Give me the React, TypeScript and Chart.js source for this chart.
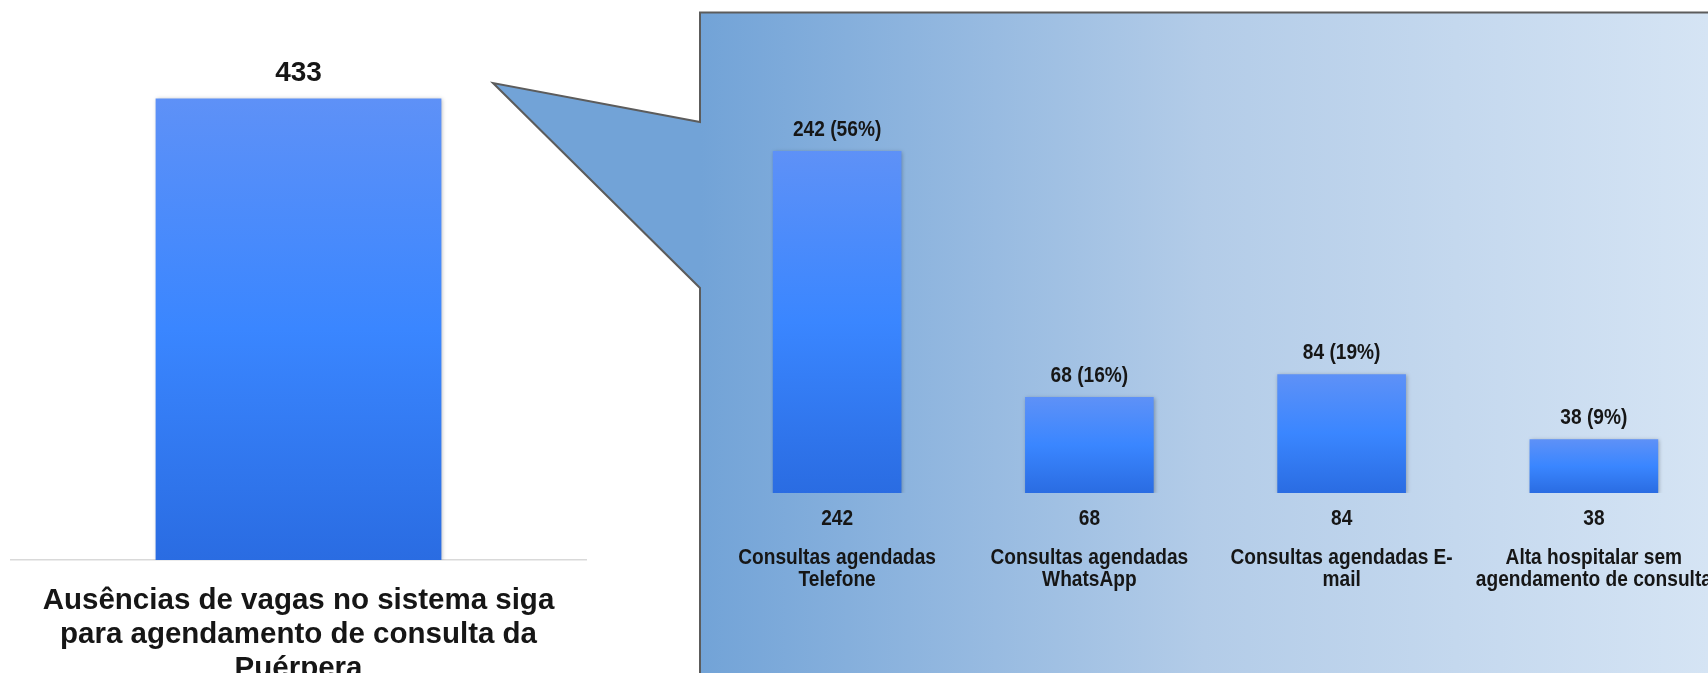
import React, { useEffect, useRef } from "react";
import { Chart, registerables } from "chart.js";

Chart.register(...registerables);

// ---------- data ----------
const leftCategories = [["Ausências de vagas no sistema siga", "para agendamento de consulta da", "Puérpera"]];
const leftValues = [433];

const rightCategories = [
  ["Consultas agendadas", "Telefone"],
  ["Consultas agendadas", "WhatsApp"],
  ["Consultas agendadas E-", "mail"],
  ["Alta hospitalar sem", "agendamento de consulta"],
];
const rightValues = [242, 68, 84, 38];
const rightPercents = ["56%", "16%", "19%", "9%"];

const leftYMax = 500;
const rightYMax = 300;

// ---------- helpers ----------
const FAMILY = "'Liberation Sans', Arial, sans-serif";
const NARROW = 0.89;

function barGradient(context: any) {
  const chart = context.chart;
  const y = chart.scales && chart.scales.y;
  if (!y || !chart.chartArea || context.dataIndex === undefined) return "#3a86ff";
  const v = context.dataset.data[context.dataIndex];
  const top = y.getPixelForValue(v);
  const base = y.getPixelForValue(0);
  if (!isFinite(top) || !isFinite(base) || top === base) return "#3a86ff";
  const g = chart.ctx.createLinearGradient(0, top, 0, base);
  g.addColorStop(0, "#5e91f7");
  g.addColorStop(0.5, "#3a86ff");
  g.addColorStop(1, "#2a6ce2");
  return g;
}

const shadowPlugin = {
  id: "barShadow",
  beforeDatasetsDraw(chart: any) {
    const ctx = chart.ctx;
    ctx.save();
    ctx.shadowColor = "rgba(0,0,0,0.28)";
    ctx.shadowBlur = 4;
    ctx.shadowOffsetX = 1;
    ctx.shadowOffsetY = 1;
  },
  afterDatasetsDraw(chart: any) {
    chart.ctx.restore();
  },
};

const panelPlugin = {
  id: "panel",
  beforeDraw(chart: any) {
    const ctx = chart.ctx;
    ctx.save();
    const g = ctx.createLinearGradient(700, 0, 1708, 0);
    g.addColorStop(0, "#72a3d7");
    g.addColorStop(0.5, "#b3cce8");
    g.addColorStop(1, "#d5e4f4");
    ctx.fillStyle = g;
    ctx.beginPath();
    ctx.moveTo(1800, 12.5);
    ctx.lineTo(700, 12.5);
    ctx.lineTo(700, 122);
    ctx.lineTo(493, 83);
    ctx.lineTo(700, 288);
    ctx.lineTo(700, 700);
    ctx.lineTo(1800, 700);
    ctx.closePath();
    ctx.fill();
    ctx.beginPath();
    ctx.moveTo(1800, 12.5);
    ctx.lineTo(700, 12.5);
    ctx.lineTo(700, 122);
    ctx.lineTo(493, 83);
    ctx.lineTo(700, 288);
    ctx.lineTo(700, 700);
    ctx.strokeStyle = "#5c5c5c";
    ctx.lineWidth = 2;
    ctx.stroke();
    ctx.restore();
  },
};

function narrowText(ctx: any, text: string, x: number, y: number) {
  ctx.save();
  ctx.translate(x, y);
  ctx.scale(NARROW, 1);
  ctx.fillText(text, 0, 0);
  ctx.restore();
}

const rightLabelPlugin = {
  id: "rightLabels",
  afterDraw(chart: any) {
    const ctx = chart.ctx;
    const xs = chart.scales.x;
    const bottom = chart.chartArea.bottom;
    ctx.save();
    ctx.font = `bold 21.5px ${FAMILY}`;
    ctx.fillStyle = "#161616";
    ctx.textAlign = "center";
    ctx.textBaseline = "middle";
    chart.getDatasetMeta(0).data.forEach((bar: any, i: number) => {
      narrowText(ctx, `${rightValues[i]} (${rightPercents[i]})`, bar.x, bar.y - 21);
    });
    rightCategories.forEach((lines, i) => {
      const x = xs.getPixelForValue(i);
      narrowText(ctx, String(rightValues[i]), x, bottom + 26.5);
      lines.forEach((line, j) => narrowText(ctx, line, x, bottom + 65 + j * 22.5));
    });
    ctx.restore();
  },
};

const leftLabelPlugin = {
  id: "leftLabels",
  afterDatasetsDraw(chart: any) {
    const ctx = chart.ctx;
    ctx.save();
    ctx.font = `bold 28px ${FAMILY}`;
    ctx.fillStyle = "#161616";
    ctx.textAlign = "center";
    ctx.textBaseline = "middle";
    chart.getDatasetMeta(0).data.forEach((bar: any, i: number) => {
      ctx.fillText(String(leftValues[i]), bar.x, bar.y - 25);
    });
    ctx.restore();
  },
};

export default function App() {
  const leftRef = useRef<HTMLCanvasElement>(null);
  const rightRef = useRef<HTMLCanvasElement>(null);

  useEffect(() => {
    const right = new Chart(rightRef.current as HTMLCanvasElement, {
      type: "bar",
      data: {
        labels: rightCategories.map((c) => c.join(" ")),
        datasets: [
          {
            data: rightValues,
            backgroundColor: barGradient,
            borderWidth: 0,
            barPercentage: 0.51,
            categoryPercentage: 1,
          },
        ],
      },
      options: {
        animation: false,
        responsive: false,
        layout: { padding: { left: 711, right: 20, top: 69, bottom: 180 } },
        plugins: { legend: { display: false }, tooltip: { enabled: false } },
        scales: {
          x: { display: false, offset: true },
          y: { display: false, min: 0, max: rightYMax },
        },
      },
      plugins: [panelPlugin, shadowPlugin, rightLabelPlugin],
    } as any);

    const left = new Chart(leftRef.current as HTMLCanvasElement, {
      type: "bar",
      data: {
        labels: leftCategories,
        datasets: [
          {
            data: leftValues,
            backgroundColor: barGradient,
            borderWidth: 0,
            barPercentage: 0.497,
            categoryPercentage: 1,
          },
        ],
      },
      options: {
        animation: false,
        responsive: false,
        layout: { padding: { left: 11, right: 114, top: 27, bottom: 0 } },
        plugins: { legend: { display: false }, tooltip: { enabled: false } },
        scales: {
          x: {
            grid: { display: false, drawTicks: false },
            border: { display: true, color: "#d9d9d9", width: 1.5 },
            ticks: {
              autoSkip: false,
              maxRotation: 0,
              minRotation: 0,
              padding: 24,
              color: "#161616",
              font: { family: FAMILY, size: 29.5, weight: "bold", lineHeight: "34px" },
            },
            afterFit(scale: any) {
              scale.height = 673 - 560;
            },
          },
          y: { display: false, min: 0, max: leftYMax },
        },
      },
      plugins: [shadowPlugin, leftLabelPlugin],
    } as any);

    return () => {
      right.destroy();
      left.destroy();
    };
  }, []);

  return (
    <div
      style={{
        position: "fixed",
        left: 0,
        top: 0,
        width: 1708,
        height: 673,
        overflow: "hidden",
        background: "#ffffff",
      }}
    >
      <canvas
        ref={rightRef}
        width={1740}
        height={673}
        style={{ position: "absolute", left: 0, top: 0, width: 1740, height: 673, display: "block" }}
      />
      <canvas
        ref={leftRef}
        width={700}
        height={673}
        style={{ position: "absolute", left: 0, top: 0, width: 700, height: 673, display: "block" }}
      />
    </div>
  );
}
